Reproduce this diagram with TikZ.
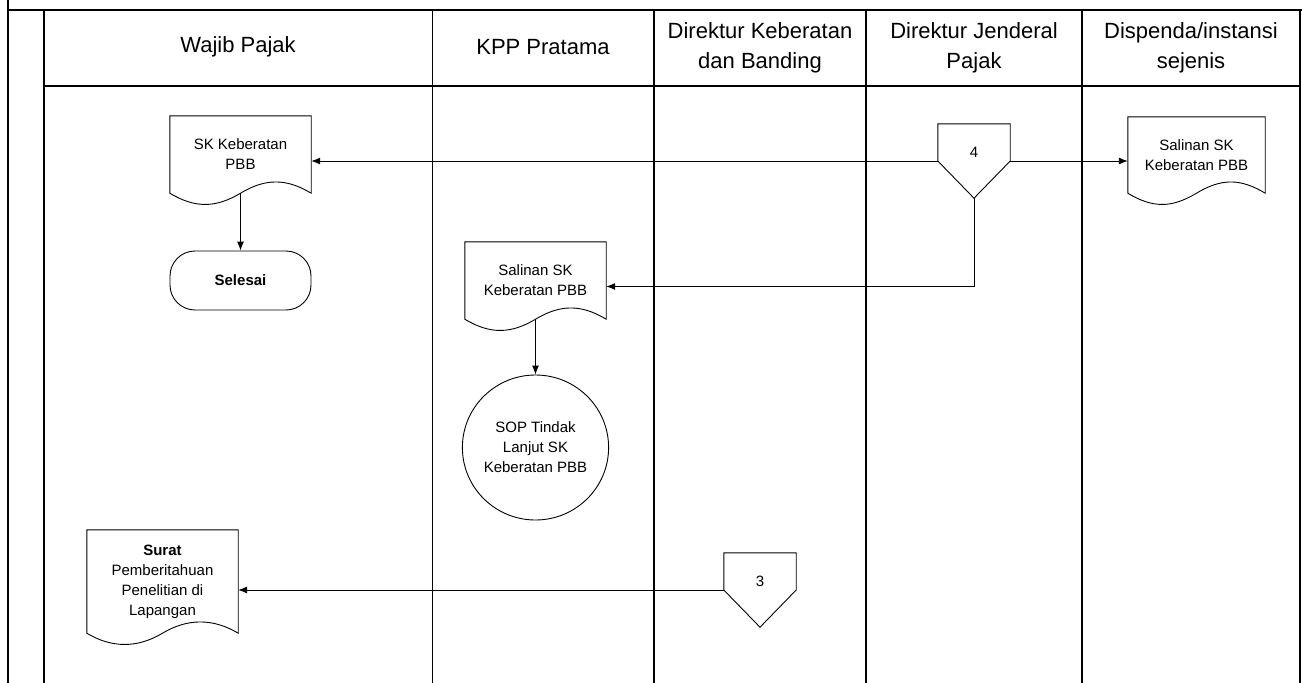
\documentclass[tikz,border=0pt]{standalone}
\usepackage{fontspec}
\setmainfont{Liberation Sans}
\usetikzlibrary{shapes.geometric,arrows.meta,calc}

\tikzstyle{lane} = [line width=1.3pt]
\tikzstyle{header} = [align=center, font=\fontsize{22}{30}\selectfont]
\tikzstyle{docbox} = [minimum width=141pt, minimum height=77pt, inner sep=0pt, align=center, font=\fontsize{15}{20}\selectfont]
\tikzstyle{terminal} = [draw, line width=0.9pt, rounded corners=25pt, minimum width=141pt, minimum height=59pt, font=\fontsize{15}{20}\selectfont\bfseries]
\tikzstyle{offpage} = [minimum width=72pt, minimum height=74pt, inner sep=0pt, text depth=18pt, font=\fontsize{15}{20}\selectfont]
\tikzstyle{subproc} = [draw, line width=0.9pt, ellipse, minimum width=133pt, minimum height=145pt, inner sep=0pt, align=center, font=\fontsize{15}{20}\selectfont]
\tikzstyle{shapeline} = [line width=0.9pt]
\tikzstyle{arrow} = [line width=0.9pt,-{Latex[length=9pt,width=7pt]}]

\begin{document}
\begin{tikzpicture}[x=1pt, y=-1pt]
    \useasboundingbox (0,0) rectangle (1302,683);

    % Lanes
    \draw [lane] (8,0) -- (8,683);
    \draw [lane] (8,10) -- (1302,10);
    \draw [lane] (44,86) -- (1300,86);
    \foreach \x in {44,432.5,654,866,1082,1300}
        \draw [lane] (\x,10) -- (\x,683);

    % Headers
    \node (hwp) [header] at (238,47) {Wajib Pajak};
    \node (hkpp) [header] at (543,47) {KPP Pratama};
    \node (hdkb) [header] at (760,48) {Direktur Keberatan\\dan Banding};
    \node (hdjp) [header] at (974,48) {Direktur Jenderal\\Pajak};
    \node (hdisp) [header] at (1191,48) {Dispenda/instansi\\sejenis};

    % Nodes
    \node (skwp) [docbox] at (240.5,154.5) {SK Keberatan\\PBB};
    \node (selesai) [terminal, node distance=126pt, below of=skwp] {Selesai};
    \node (salkpp) [docbox] at (535.5,280.5) {Salinan SK\\Keberatan PBB};
    \node (sop) [subproc, node distance=167pt, below of=salkpp] {SOP Tindak\\Lanjut SK\\Keberatan PBB};
    \node (saldisp) [docbox, minimum width=137pt, minimum height=76pt] at (1196.5,155) {Salinan SK\\Keberatan PBB};
    \node (surat) [docbox, minimum width=151pt, minimum height=103pt] at (162.5,581.5) {\textbf{Surat}\\Pemberitahuan\\Penelitian di\\Lapangan};
    \node (four) [offpage] at (974,161) {4};
    \node (three) [offpage] at (760,590) {3};

    % Shapes
    \foreach \d in {skwp,salkpp,saldisp,surat}
        \draw [shapeline] (\d.north west) -- (\d.north east) -- (\d.south east)
            .. controls +(-25,-15) and +(25,-15) .. (\d.south)
            .. controls +(-25,15) and +(25,15) .. (\d.south west) -- cycle;
    \foreach \c in {four,three}
        \draw [shapeline] (\c.north west) -- (\c.north east) -- (\c.east) -- (\c.south) -- (\c.west) -- cycle;

    % Arrows
    \draw [arrow] (four.west) -- (skwp.east |- four.west);
    \draw [arrow] (four.east) -- (saldisp.west |- four.east);
    \draw [arrow] (four.south) |- ($(salkpp.east)+(0,6)$);
    \draw [arrow] (skwp.south) -- (selesai.north);
    \draw [arrow] (salkpp.south) -- (sop.north);
    \draw [arrow] (three.west) -- (surat.east |- three.west);

\end{tikzpicture}
\end{document}
